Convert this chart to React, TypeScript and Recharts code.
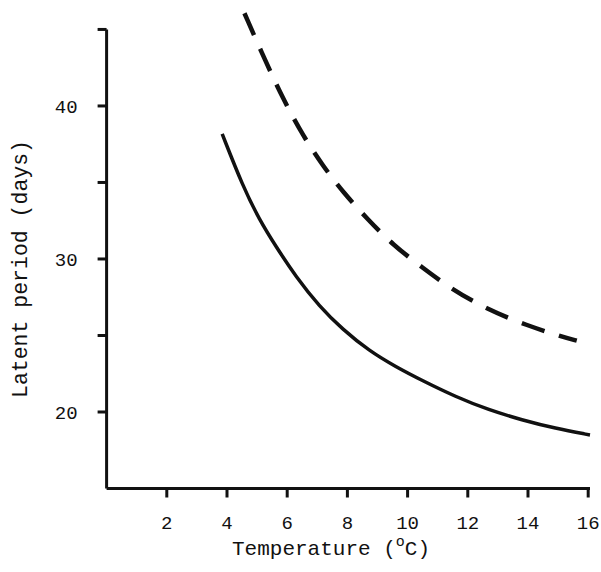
import { LineChart, Line, XAxis, YAxis, ReferenceLine, Label } from "recharts"

// values
const solidTemp = [3.84, 4.53, 5.08, 5.63, 6.29, 7.07, 7.84, 8.72, 9.61, 10.49, 11.59, 12.7, 13.8, 14.9, 16.06]
const solidLatent = [38.17, 34.73, 32.55, 30.8, 28.84, 26.9, 25.4, 24.0, 22.95, 22.05, 21.0, 20.13, 19.48, 18.93, 18.5]

const dashedTemp = [4.58, 5.27, 5.87, 6.51, 7.18, 7.86, 8.69, 9.52, 10.45, 11.45, 12.61, 13.93, 15.2, 15.62]
const dashedLatent = [46.06, 42.96, 40.44, 38.1, 36.1, 34.36, 32.55, 30.91, 29.5, 28.04, 26.75, 25.67, 24.88, 24.66]

const xTicks = [2, 4, 6, 8, 10, 12, 14, 16]
const yTicks = [20, 25, 30, 35, 40, 45]
const yLabelled = [20, 30, 40]

const solidData = solidTemp.map((t, i) => ({ temp: t, latent: solidLatent[i] }))
const dashedData = dashedTemp.map((t, i) => ({ temp: t, latent: dashedLatent[i] }))

const FONT = "'Liberation Mono', 'DejaVu Sans Mono', monospace"
const INK = "#111"

function XTitle() {
  return (
    <text x={331} y={555} textAnchor="middle" fontFamily={FONT} fontSize={21} fill={INK}>
      Temperature (
      <tspan dy={-9} fontSize={15}>o</tspan>
      <tspan dy={9}>C)</tspan>
    </text>
  )
}

function YTitle() {
  return (
    <text
      x={27}
      y={269}
      textAnchor="middle"
      transform="rotate(-90 27 269)"
      fontFamily={FONT}
      fontSize={21.5}
      fill={INK}
    >
      Latent period (days)
    </text>
  )
}

export default function App() {
  return (
    <div style={{ position: "absolute", left: 0, top: 0, background: "#fff" }}>
      <LineChart
        width={601}
        height={572}
        margin={{ top: 6.5, right: 11, bottom: 23.5, left: 16.6 }}
      >
        <XAxis
          type="number"
          dataKey="temp"
          domain={[0, 16]}
          ticks={xTicks}
          height={60}
          stroke={INK}
          strokeWidth={3}
          tickSize={9}
          tickMargin={18}
          tick={{ fontFamily: FONT, fontSize: 19, fill: INK }}
        >
          <Label content={XTitle} />
        </XAxis>
        <YAxis
          type="number"
          dataKey="latent"
          domain={[15, 46.5]}
          allowDataOverflow
          ticks={yTicks}
          width={90}
          axisLine={false}
          stroke={INK}
          tickLine={{ stroke: INK, strokeWidth: 3 }}
          tickSize={9}
          tickMargin={20}
          tickFormatter={(v: number) => (yLabelled.includes(v) ? String(v) : "")}
          tick={{ fontFamily: FONT, fontSize: 19, fill: INK }}
        >
          <Label content={YTitle} />
        </YAxis>
        <ReferenceLine
          segment={[{ x: 0, y: 15 }, { x: 0, y: 45 }]}
          stroke={INK}
          strokeWidth={3}
        />
        <Line
          data={solidData}
          dataKey="latent"
          type="basis"
          stroke={INK}
          strokeWidth={3.5}
          dot={false}
          isAnimationActive={false}
        />
        <Line
          data={dashedData}
          dataKey="latent"
          type="basis"
          stroke={INK}
          strokeWidth={4.5}
          strokeDasharray="24 15"
          dot={false}
          isAnimationActive={false}
        />
      </LineChart>
    </div>
  )
}
